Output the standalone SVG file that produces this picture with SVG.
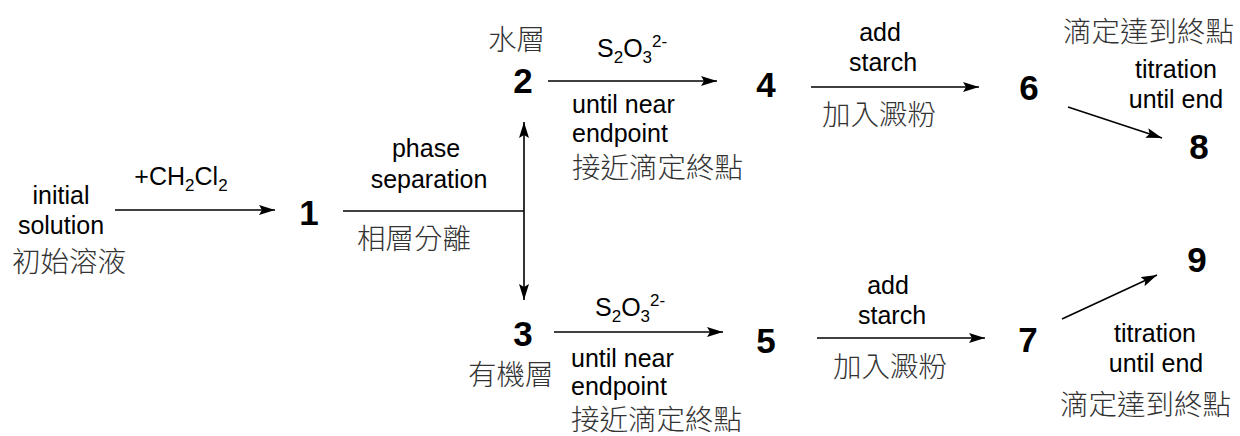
<svg xmlns="http://www.w3.org/2000/svg" width="1240" height="436" viewBox="0 0 1240 436">
<style>
.t{font-family:"Liberation Sans",Arial,sans-serif;font-size:25px;fill:#000}
.c{text-anchor:middle}
.n{font-family:"Liberation Sans",Arial,sans-serif;font-size:35px;font-weight:bold;fill:#000;text-anchor:middle}
.z{font-family:"Noto Sans CJK TC","Noto Sans CJK SC",sans-serif;font-size:28.5px;font-weight:300;fill:#333}
.s{font-size:17px}
.a{stroke:#000;stroke-width:1.6;fill:none;marker-end:url(#ah)}
</style>
<defs>
<marker id="ah" markerUnits="userSpaceOnUse" markerWidth="18" markerHeight="12" refX="16" refY="5" orient="auto-start-reverse" viewBox="0 0 18 12">
<path d="M0,0 L16,5 L0,10 L3,5 z" fill="#000"/>
</marker>
</defs>
<rect width="1240" height="436" fill="#fff"/>
<g id="connectors">
<line class="a" x1="115" y1="210" x2="275" y2="210"/>
<line x1="343" y1="211" x2="524" y2="211" stroke="#000" stroke-width="1.6"/>
<line class="a" x1="524" y1="122" x2="524" y2="300" style="marker-start:url(#ah)"/>
<line class="a" x1="548" y1="81" x2="717" y2="81"/>
<line class="a" x1="554" y1="332" x2="723" y2="332"/>
<line class="a" x1="811" y1="87" x2="979" y2="87"/>
<line class="a" x1="817" y1="338" x2="985" y2="338"/>
<line class="a" x1="1068" y1="107" x2="1162" y2="138"/>
<line class="a" x1="1062" y1="319" x2="1157" y2="275"/>
</g>
<g id="labels">
<text class="t c" x="181" y="185">+CH<tspan class="s" dy="6">2</tspan><tspan dy="-6">Cl</tspan><tspan class="s" dy="6">2</tspan></text>
<text class="t c" x="426" y="157">phase</text>
<text class="t c" x="429" y="188">separation</text>
<text class="z" x="357" y="249">相層分離</text>
<text class="t" x="597" y="57">S<tspan class="s" dy="6">2</tspan><tspan dy="-6">O</tspan><tspan class="s" dy="6">3</tspan><tspan class="s" dy="-16">2-</tspan></text>
<text class="t" x="572" y="113">until near</text>
<text class="t" x="572" y="142">endpoint</text>
<text class="z" x="572" y="178">接近滴定終點</text>
<text class="t" x="595" y="316">S<tspan class="s" dy="6">2</tspan><tspan dy="-6">O</tspan><tspan class="s" dy="6">3</tspan><tspan class="s" dy="-16">2-</tspan></text>
<text class="t" x="571" y="367">until near</text>
<text class="t" x="571" y="395">endpoint</text>
<text class="z" x="571" y="430">接近滴定終點</text>
<text class="t c" x="880" y="41">add</text>
<text class="t c" x="883" y="71">starch</text>
<text class="z" x="822" y="125">加入澱粉</text>
<text class="t c" x="888" y="294">add</text>
<text class="t c" x="892" y="324">starch</text>
<text class="z" x="833" y="377">加入澱粉</text>
<text class="z" x="1063" y="42">滴定達到終點</text>
<text class="t c" x="1176" y="78">titration</text>
<text class="t c" x="1176" y="108">until end</text>
<text class="t c" x="1155" y="342">titration</text>
<text class="t c" x="1156" y="372">until end</text>
<text class="z" x="1060" y="415">滴定達到終點</text>
</g>
<g id="node-initial">
<text class="t c" x="61" y="204">initial</text>
<text class="t c" x="61" y="234">solution</text>
<text class="z" x="12" y="272">初始溶液</text>
</g>
<g id="node-1"><text class="n" x="309" y="225">1</text></g>
<g id="node-2"><text class="z" x="488" y="50">水層</text><text class="n" x="523" y="93">2</text></g>
<g id="node-3"><text class="n" x="523" y="346">3</text><text class="z" x="468" y="385">有機層</text></g>
<g id="node-4"><text class="n" x="766" y="97">4</text></g>
<g id="node-5"><text class="n" x="766" y="353">5</text></g>
<g id="node-6"><text class="n" x="1029" y="100">6</text></g>
<g id="node-7"><text class="n" x="1028" y="352">7</text></g>
<g id="node-8"><text class="n" x="1199" y="159">8</text></g>
<g id="node-9"><text class="n" x="1197" y="272">9</text></g>
</svg>
